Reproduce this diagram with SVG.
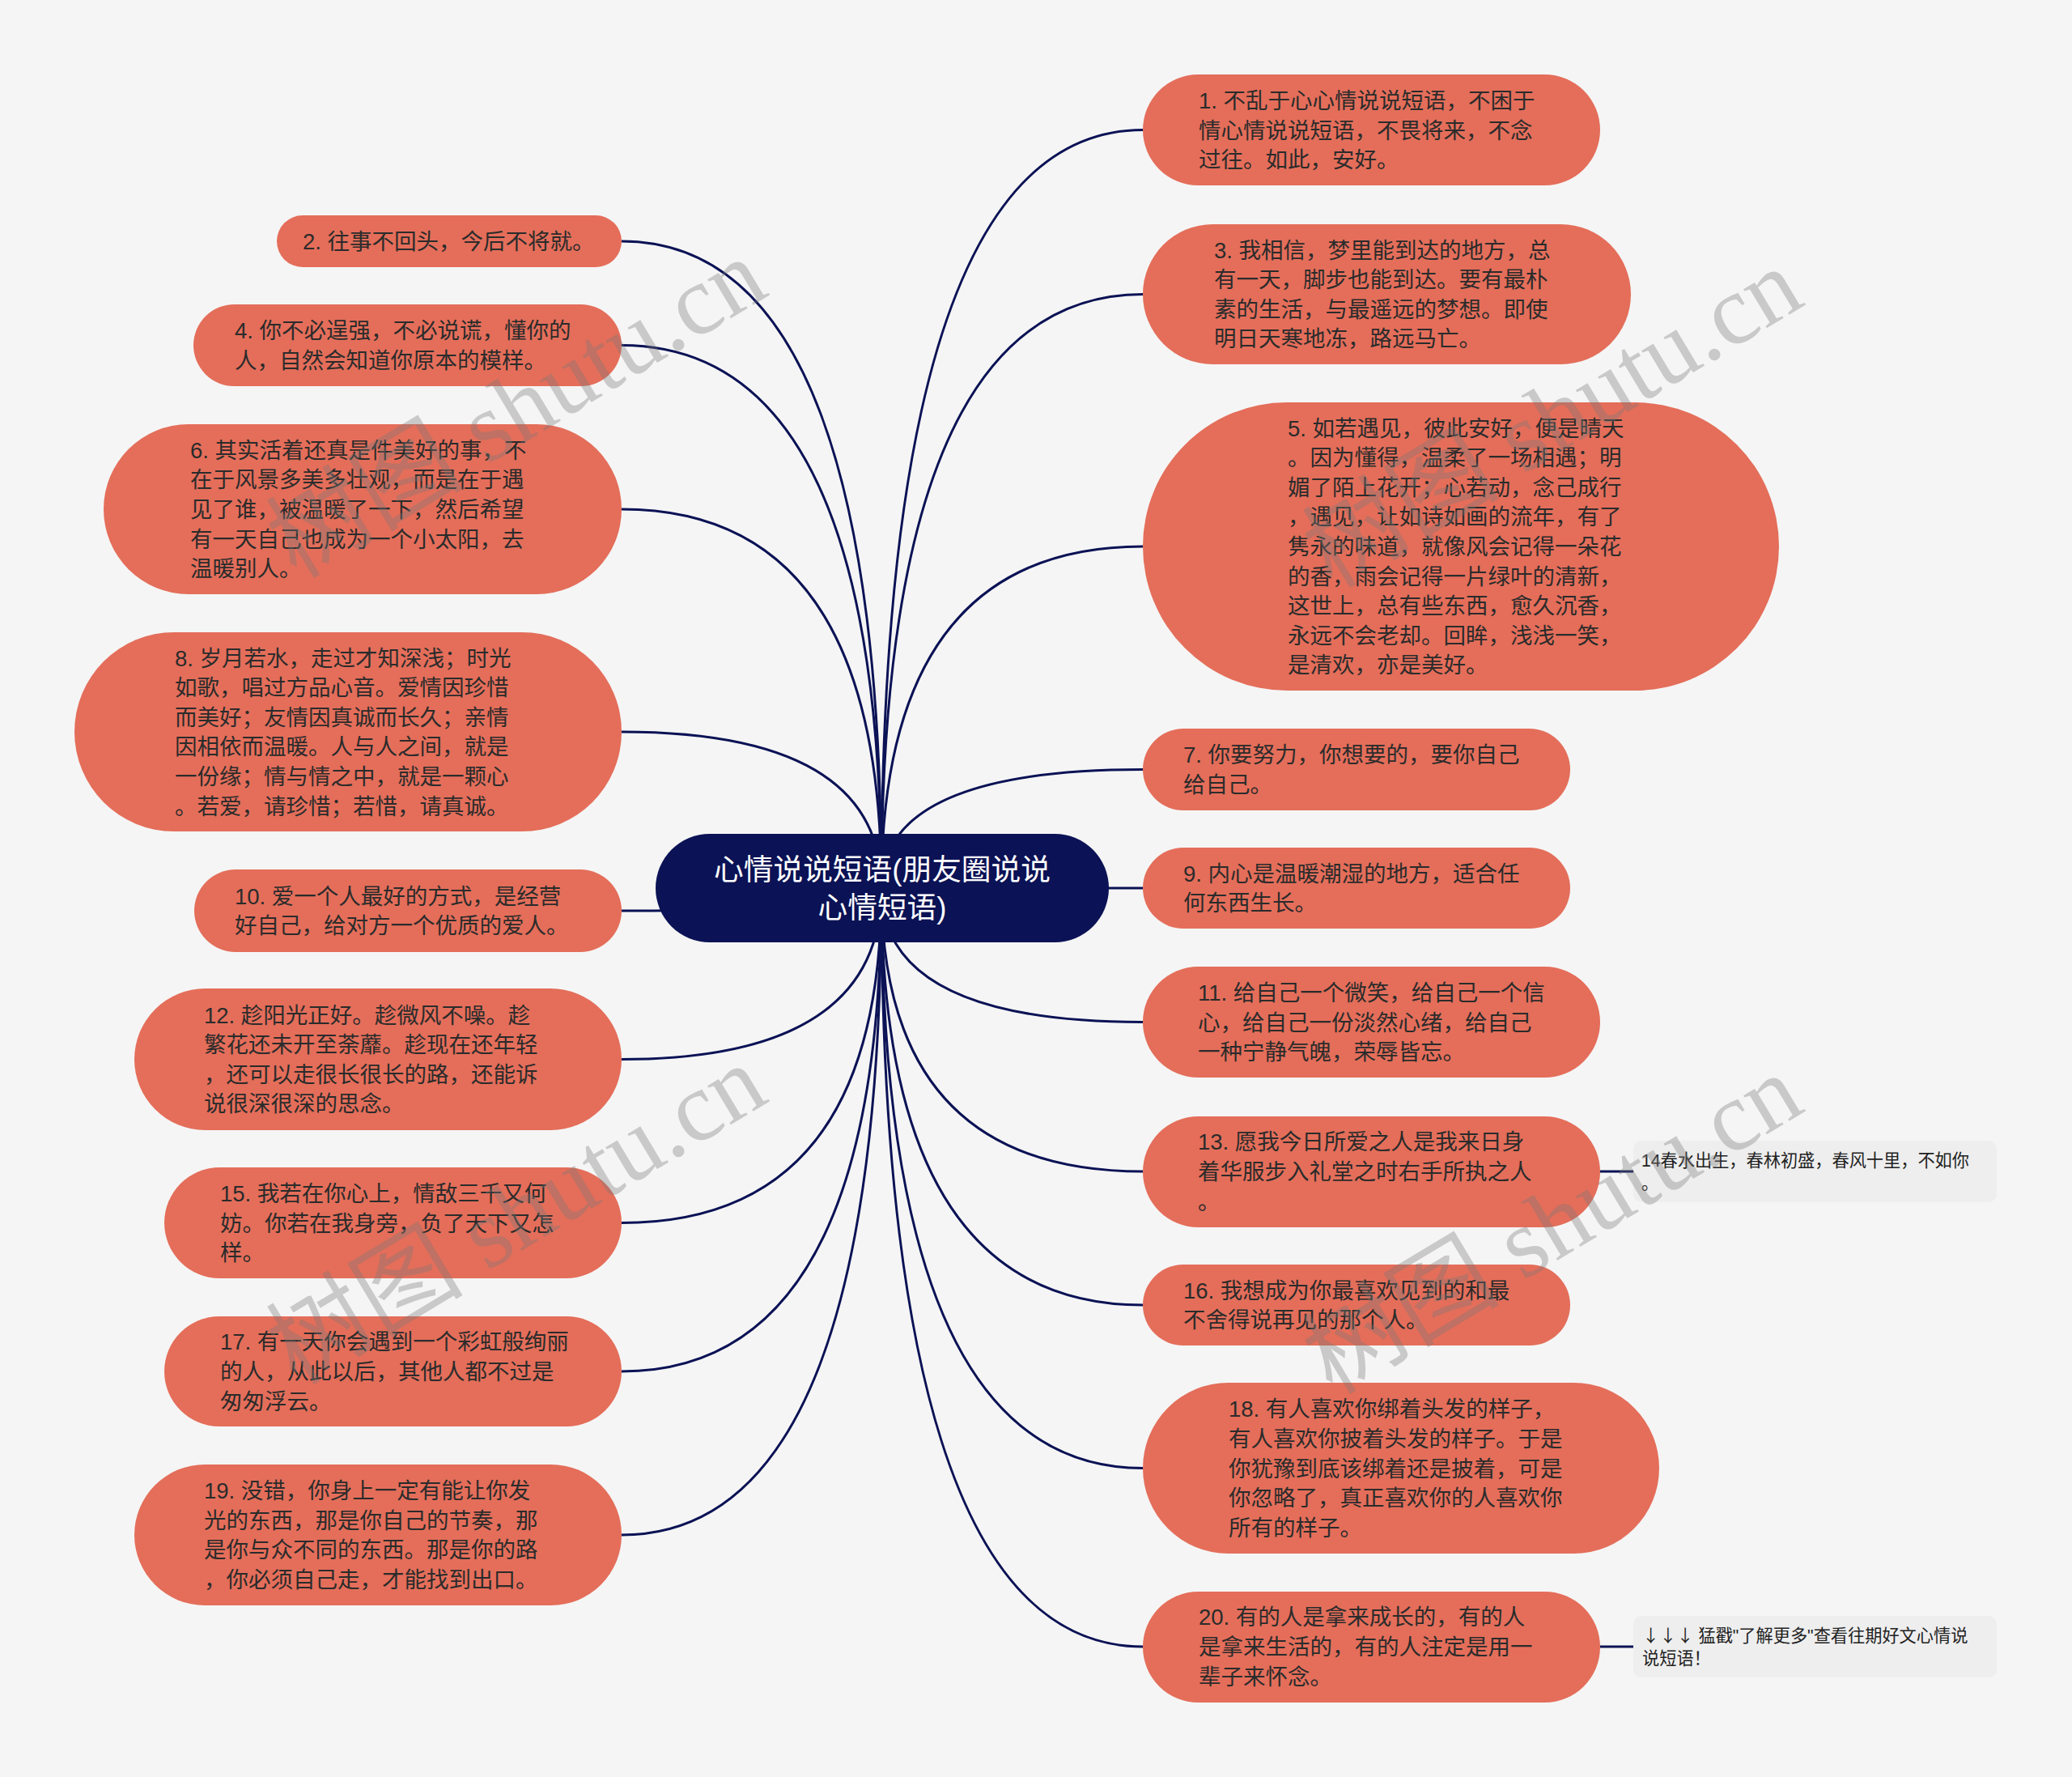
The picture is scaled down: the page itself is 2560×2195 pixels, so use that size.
<svg xmlns="http://www.w3.org/2000/svg" width="2560" height="2195" viewBox="0 0 2560 2195">
<style>
.bg{fill:#f5f5f5}
.conn path{fill:none;stroke:#0b1255;stroke-width:3}
.node rect{fill:#e46e5a}
.node text{font-family:"Liberation Sans","Noto Sans CJK SC",sans-serif;font-size:27.5px;fill:#2b2b2b}
.root rect{fill:#0b1255}
.root text{font-family:"Liberation Sans","Noto Sans CJK SC",sans-serif;font-size:36.7px;fill:#ffffff;text-anchor:middle}
.plain rect{fill:#eeeeee}
.plain text{font-family:"Liberation Sans","Noto Sans CJK SC",sans-serif;font-size:21.2px;fill:#222222}
.arrows{font-family:"Noto Sans CJK SC",sans-serif}
.wm text{font-family:"Liberation Serif","Noto Sans CJK SC",serif;font-size:122px;fill:#777777;fill-opacity:0.35}
</style>
<rect class="bg" x="0" y="0" width="2560" height="2195"/>
<g id="connectors" class="conn">
<path d="M1089,1097 Q1089,160.5 1412,160.5"/>
<path d="M1089,1097 Q1089,363.5 1412,363.5"/>
<path d="M1089,1097 Q1089,675 1412,675"/>
<path d="M1089,1097 Q1089,950.5 1412,950.5"/>
<path d="M1089,1097 L1412,1097"/>
<path d="M1089,1097 Q1089,1262.5 1412,1262.5"/>
<path d="M1089,1097 Q1089,1447 1412,1447"/>
<path d="M1089,1097 Q1089,1612 1412,1612"/>
<path d="M1089,1097 Q1089,1813.5 1412,1813.5"/>
<path d="M1089,1097 Q1089,2034 1412,2034"/>
<path d="M1089,1097 Q1089,298 768,298"/>
<path d="M1089,1097 Q1089,426.5 768,426.5"/>
<path d="M1089,1097 Q1089,629 768,629"/>
<path d="M1089,1097 Q1089,904 768,904"/>
<path d="M1089,1097 Q1089,1125 768,1125"/>
<path d="M1089,1097 Q1089,1308.5 768,1308.5"/>
<path d="M1089,1097 Q1089,1510.5 768,1510.5"/>
<path d="M1089,1097 Q1089,1694 768,1694"/>
<path d="M1089,1097 Q1089,1896 768,1896"/>
<path d="M1977,1447 L2018,1447"/>
<path d="M1977,2034 L2018,2034"/>
</g>
<g id="root" class="root">
<rect x="810" y="1030" width="560" height="134" rx="67"/>
<text x="1090" y="1086.7">心情说说短语(朋友圈说说</text>
<text x="1090" y="1133.7">心情短语)</text>
</g>
<g id="n1" class="node"><rect x="1412" y="92" width="565" height="137" rx="68.5"/>
<text><tspan x="1481" y="134">1. 不乱于心心情说说短语，不困于</tspan><tspan x="1481" dy="36.6">情心情说说短语，不畏将来，不念</tspan><tspan x="1481" dy="36.6">过往。如此，安好。</tspan></text></g>
<g id="n3" class="node"><rect x="1412" y="277" width="603" height="173" rx="86.5"/>
<text><tspan x="1500" y="318.6">3. 我相信，梦里能到达的地方，总</tspan><tspan x="1500" dy="36.6">有一天，脚步也能到达。要有最朴</tspan><tspan x="1500" dy="36.6">素的生活，与最遥远的梦想。即使</tspan><tspan x="1500" dy="36.6">明日天寒地冻，路远马亡。</tspan></text></g>
<g id="n5" class="node"><rect x="1412" y="497" width="786" height="356" rx="178"/>
<text><tspan x="1591" y="538.6">5. 如若遇见，彼此安好，便是晴天</tspan><tspan x="1591" dy="36.6">。因为懂得，温柔了一场相遇；明</tspan><tspan x="1591" dy="36.6">媚了陌上花开；心若动，念己成行</tspan><tspan x="1591" dy="36.6">，遇见，让如诗如画的流年，有了</tspan><tspan x="1591" dy="36.6">隽永的味道，就像风会记得一朵花</tspan><tspan x="1591" dy="36.6">的香，雨会记得一片绿叶的清新，</tspan><tspan x="1591" dy="36.6">这世上，总有些东西，愈久沉香，</tspan><tspan x="1591" dy="36.6">永远不会老却。回眸，浅浅一笑，</tspan><tspan x="1591" dy="36.6">是清欢，亦是美好。</tspan></text></g>
<g id="n7" class="node"><rect x="1412" y="900" width="528" height="101" rx="50.5"/>
<text><tspan x="1462" y="942.2">7. 你要努力，你想要的，要你自己</tspan><tspan x="1462" dy="36.6">给自己。</tspan></text></g>
<g id="n9" class="node"><rect x="1412" y="1047" width="528" height="100" rx="50"/>
<text><tspan x="1462" y="1088.7">9. 内心是温暖潮湿的地方，适合任</tspan><tspan x="1462" dy="36.6">何东西生长。</tspan></text></g>
<g id="n11" class="node"><rect x="1412" y="1194" width="565" height="137" rx="68.5"/>
<text><tspan x="1480" y="1235.9">11. 给自己一个微笑，给自己一个信</tspan><tspan x="1480" dy="36.6">心，给自己一份淡然心绪，给自己</tspan><tspan x="1480" dy="36.6">一种宁静气魄，荣辱皆忘。</tspan></text></g>
<g id="n13" class="node"><rect x="1412" y="1379" width="565" height="137" rx="68.5"/>
<text><tspan x="1480" y="1420.4">13. 愿我今日所爱之人是我来日身</tspan><tspan x="1480" dy="36.6">着华服步入礼堂之时右手所执之人</tspan><tspan x="1480" dy="36.6">。</tspan></text></g>
<g id="n14" class="plain"><rect x="2018" y="1409" width="449" height="76" rx="10"/>
<text><tspan x="2028" y="1441.3">14春水出生，春林初盛，春风十里，不如你</tspan><tspan x="2028" dy="27.5">。</tspan></text></g>
<g id="n16" class="node"><rect x="1412" y="1562" width="528" height="100" rx="50"/>
<text><tspan x="1462" y="1603.7">16. 我想成为你最喜欢见到的和最</tspan><tspan x="1462" dy="36.6">不舍得说再见的那个人。</tspan></text></g>
<g id="n18" class="node"><rect x="1412" y="1708" width="638" height="211" rx="105.5"/>
<text><tspan x="1518" y="1750.3">18. 有人喜欢你绑着头发的样子，</tspan><tspan x="1518" dy="36.6">有人喜欢你披着头发的样子。于是</tspan><tspan x="1518" dy="36.6">你犹豫到底该绑着还是披着，可是</tspan><tspan x="1518" dy="36.6">你忽略了，真正喜欢你的人喜欢你</tspan><tspan x="1518" dy="36.6">所有的样子。</tspan></text></g>
<g id="n20" class="node"><rect x="1412" y="1966" width="565" height="137" rx="68.5"/>
<text><tspan x="1481" y="2007.4">20. 有的人是拿来成长的，有的人</tspan><tspan x="1481" dy="36.6">是拿来生活的，有的人注定是用一</tspan><tspan x="1481" dy="36.6">辈子来怀念。</tspan></text></g>
<g id="n21" class="plain"><rect x="2018" y="1996" width="449" height="76" rx="10"/>
<text><tspan x="2029" y="2028.3"><tspan class="arrows">↓↓↓</tspan> 猛戳"了解更多"查看往期好文心情说</tspan><tspan x="2029" dy="27.5">说短语！</tspan></text></g>
<g id="n2" class="node"><rect x="342" y="266" width="426" height="64" rx="32"/>
<text><tspan x="374" y="308">2. 往事不回头，今后不将就。</tspan></text></g>
<g id="n4" class="node"><rect x="239" y="376" width="529" height="101" rx="50.5"/>
<text><tspan x="290" y="418.2">4. 你不必逞强，不必说谎，懂你的</tspan><tspan x="290" dy="36.6">人，自然会知道你原本的模样。</tspan></text></g>
<g id="n6" class="node"><rect x="128" y="524" width="640" height="210" rx="105"/>
<text><tspan x="235" y="565.8">6. 其实活着还真是件美好的事，不</tspan><tspan x="235" dy="36.6">在于风景多美多壮观，而是在于遇</tspan><tspan x="235" dy="36.6">见了谁，被温暖了一下，然后希望</tspan><tspan x="235" dy="36.6">有一天自己也成为一个小太阳，去</tspan><tspan x="235" dy="36.6">温暖别人。</tspan></text></g>
<g id="n8" class="node"><rect x="92" y="781" width="676" height="246" rx="123"/>
<text><tspan x="216" y="822.5">8. 岁月若水，走过才知深浅；时光</tspan><tspan x="216" dy="36.6">如歌，唱过方品心音。爱情因珍惜</tspan><tspan x="216" dy="36.6">而美好；友情因真诚而长久；亲情</tspan><tspan x="216" dy="36.6">因相依而温暖。人与人之间，就是</tspan><tspan x="216" dy="36.6">一份缘；情与情之中，就是一颗心</tspan><tspan x="216" dy="36.6">。若爱，请珍惜；若惜，请真诚。</tspan></text></g>
<g id="n10" class="node"><rect x="240" y="1074" width="528" height="102" rx="51"/>
<text><tspan x="290" y="1116.7">10. 爱一个人最好的方式，是经营</tspan><tspan x="290" dy="36.6">好自己，给对方一个优质的爱人。</tspan></text></g>
<g id="n12" class="node"><rect x="166" y="1221" width="602" height="175" rx="87.5"/>
<text><tspan x="252" y="1263.6">12. 趁阳光正好。趁微风不噪。趁</tspan><tspan x="252" dy="36.6">繁花还未开至荼蘼。趁现在还年轻</tspan><tspan x="252" dy="36.6">，还可以走很长很长的路，还能诉</tspan><tspan x="252" dy="36.6">说很深很深的思念。</tspan></text></g>
<g id="n15" class="node"><rect x="203" y="1442" width="565" height="137" rx="68.5"/>
<text><tspan x="272" y="1483.9">15. 我若在你心上，情敌三千又何</tspan><tspan x="272" dy="36.6">妨。你若在我身旁，负了天下又怎</tspan><tspan x="272" dy="36.6">样。</tspan></text></g>
<g id="n17" class="node"><rect x="203" y="1626" width="565" height="136" rx="68"/>
<text><tspan x="272" y="1667.4">17. 有一天你会遇到一个彩虹般绚丽</tspan><tspan x="272" dy="36.6">的人，从此以后，其他人都不过是</tspan><tspan x="272" dy="36.6">匆匆浮云。</tspan></text></g>
<g id="n19" class="node"><rect x="166" y="1809" width="602" height="174" rx="87"/>
<text><tspan x="252" y="1851.1">19. 没错，你身上一定有能让你发</tspan><tspan x="252" dy="36.6">光的东西，那是你自己的节奏，那</tspan><tspan x="252" dy="36.6">是你与众不同的东西。那是你的路</tspan><tspan x="252" dy="36.6">，你必须自己走，才能找到出口。</tspan></text></g>
<g id="watermark" class="wm">
<text transform="translate(366,716) rotate(-31)">树图 shutu.cn</text>
<text transform="translate(1646,728) rotate(-31)">树图 shutu.cn</text>
<text transform="translate(366,1712) rotate(-31)">树图 shutu.cn</text>
<text transform="translate(1646,1724) rotate(-31)">树图 shutu.cn</text>
</g>
</svg>
